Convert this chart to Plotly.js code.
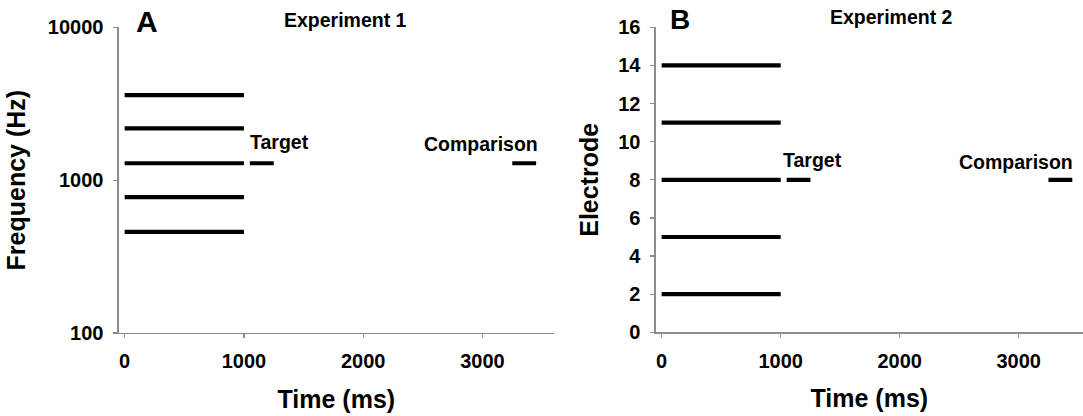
<!DOCTYPE html>
<html>
<head>
<meta charset="utf-8">
<script src="https://cdn.plot.ly/plotly-3.0.1.min.js"></script>
<style>html,body{margin:0;padding:0;background:#fff;}#chart{width:1083px;height:416px;}</style>
</head>
<body>
<div id="chart"></div>
<script>
// ---- data ----
const backgroundTime = [0, 1000];
const targetTime = [1050, 1250];
const comparisonTime = [3250, 3450];
const exp1Frequencies = [459, 775, 1290, 2180, 3600];
const exp1TargetFrequency = 1290;
const exp2Electrodes = [2, 5, 8, 11, 14];
const exp2TargetElectrode = 8;
const xTickVals = [0, 1000, 2000, 3000];
const freqTickVals = [100, 1000, 10000];
const freqTickText = ['100', '1000', '10000'];
const electrodeTickVals = [0, 2, 4, 6, 8, 10, 12, 14, 16];

const W = 1083, H = 416;
const FONT = '"Liberation Sans", Arial, sans-serif';
const px = v => v / W;
const py = v => 1 - v / H;

const lineStyle = {color: '#000', width: 4.2};
const traces = [];
exp1Frequencies.forEach(f => traces.push({x: backgroundTime, y: [f, f], mode: 'lines', line: lineStyle, xaxis: 'x', yaxis: 'y', hoverinfo: 'skip'}));
traces.push({x: targetTime, y: [exp1TargetFrequency, exp1TargetFrequency], mode: 'lines', line: lineStyle, xaxis: 'x', yaxis: 'y'});
traces.push({x: comparisonTime, y: [exp1TargetFrequency, exp1TargetFrequency], mode: 'lines', line: lineStyle, xaxis: 'x', yaxis: 'y'});
exp2Electrodes.forEach(e => traces.push({x: backgroundTime, y: [e, e], mode: 'lines', line: lineStyle, xaxis: 'x2', yaxis: 'y2', hoverinfo: 'skip'}));
traces.push({x: targetTime, y: [exp2TargetElectrode, exp2TargetElectrode], mode: 'lines', line: lineStyle, xaxis: 'x2', yaxis: 'y2'});
traces.push({x: comparisonTime, y: [exp2TargetElectrode, exp2TargetElectrode], mode: 'lines', line: lineStyle, xaxis: 'x2', yaxis: 'y2'});

const tickFont = {family: FONT, size: 20, color: '#000', weight: 'bold'};
const titleFont = {family: FONT, size: 25, color: '#000', weight: 'bold'};
const textFont = {family: FONT, size: 19.5, color: '#000', weight: 'bold'};
const axisCommon = {
  showline: true, linecolor: '#8c8c8c', linewidth: 1.3, showgrid: false, zeroline: false,
  ticks: 'outside', ticklen: 4, tickcolor: '#8c8c8c', tickwidth: 1.3, tickfont: tickFont,
  automargin: false, fixedrange: true
};

const yTop = py(27.3), yBot = py(333);
const layout = {
  width: W, height: H, margin: {l: 0, r: 0, t: 0, b: 0},
  paper_bgcolor: '#fff', plot_bgcolor: '#fff', showlegend: false,
  xaxis: Object.assign({}, axisCommon, {domain: [px(118.7), px(554)], range: [-50, 3600], tickvals: xTickVals, ticklabelstandoff: 6, anchor: 'y',
    title: {text: 'Time (ms)', font: titleFont, standoff: 19}}),
  yaxis: Object.assign({}, axisCommon, {domain: [yBot, yTop], type: 'log', range: [2, 4], tickvals: freqTickVals, ticktext: freqTickText, ticklabelstandoff: 6, anchor: 'x',
    title: {text: 'Frequency (Hz)', font: titleFont, standoff: 15}}),
  xaxis2: Object.assign({}, axisCommon, {domain: [px(655.7), 1], range: [-50, 3540], tickvals: xTickVals, ticklabelstandoff: 6, anchor: 'y2',
    title: {text: 'Time (ms)', font: titleFont, standoff: 19}}),
  yaxis2: Object.assign({}, axisCommon, {domain: [py(332.3), yTop], range: [0, 16], tickvals: electrodeTickVals, ticklabelstandoff: 6, anchor: 'x2',
    title: {text: 'Electrode', font: titleFont, standoff: 12}}),
  annotations: [
    {text: 'A', xref: 'paper', yref: 'paper', x: px(146.5), y: py(21), xanchor: 'center', yanchor: 'middle', showarrow: false, font: {family: FONT, size: 30, color: '#000', weight: 'bold'}},
    {text: 'Experiment 1', xref: 'paper', yref: 'paper', x: px(345.5), y: py(20), xanchor: 'center', yanchor: 'middle', showarrow: false, font: textFont},
    {text: 'Target', xref: 'paper', yref: 'paper', x: px(248), y: py(142), xanchor: 'left', yanchor: 'middle', showarrow: false, font: textFont},
    {text: 'Comparison', xref: 'paper', yref: 'paper', x: px(540), y: py(144), xanchor: 'right', yanchor: 'middle', showarrow: false, font: textFont},
    {text: 'B', xref: 'paper', yref: 'paper', x: px(680), y: py(19.5), xanchor: 'center', yanchor: 'middle', showarrow: false, font: {family: FONT, size: 28, color: '#000', weight: 'bold'}},
    {text: 'Experiment 2', xref: 'paper', yref: 'paper', x: px(891), y: py(17), xanchor: 'center', yanchor: 'middle', showarrow: false, font: textFont},
    {text: 'Target', xref: 'paper', yref: 'paper', x: px(780.5), y: py(160), xanchor: 'left', yanchor: 'middle', showarrow: false, font: textFont},
    {text: 'Comparison', xref: 'paper', yref: 'paper', x: px(1075), y: py(162), xanchor: 'right', yanchor: 'middle', showarrow: false, font: textFont}
  ]
};

Plotly.newPlot('chart', traces, layout, {displayModeBar: false, staticPlot: true});
</script>
</body>
</html>
